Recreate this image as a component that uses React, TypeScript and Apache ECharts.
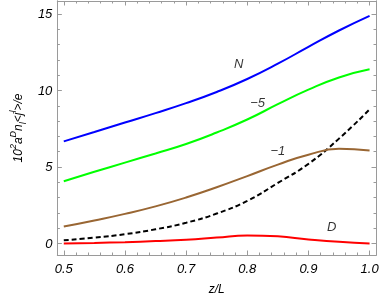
import React, { useEffect, useRef } from "react";
import * as echarts from "echarts";

// ---- data ----
const zValues = [0.5, 0.55, 0.6, 0.65, 0.7, 0.75, 0.8, 0.85, 0.9, 0.95, 1.0];
const seriesN = [6.67, 7.28, 7.9, 8.52, 9.17, 9.9, 10.75, 11.75, 12.85, 13.92, 14.88];
const seriesM5 = [4.06, 4.68, 5.28, 5.88, 6.5, 7.25, 8.1, 9.1, 10.05, 10.85, 11.38];
const seriesM1 = [1.1, 1.5, 1.93, 2.42, 3.0, 3.67, 4.4, 5.15, 5.8, 6.18, 6.08];
const seriesDashed = [0.2, 0.38, 0.6, 0.92, 1.35, 1.95, 2.78, 3.95, 5.2, 6.85, 8.76];
const seriesD = [0.0, 0.03, 0.08, 0.15, 0.24, 0.38, 0.52, 0.46, 0.26, 0.1, 0.0];

// annotation labels: [z, value, text]
const annotations: [number, number, string][] = [
  [0.786, 11.75, "N"],
  [0.817, 9.2, "\u22125"],
  [0.85, 6.1, "\u22121"],
  [0.938, 1.12, "D"],
];

const xMajorTicks = [0.5, 0.6, 0.7, 0.8, 0.9, 1.0];
const xMinorTicks = [0.52, 0.54, 0.56, 0.58, 0.62, 0.64, 0.66, 0.68, 0.72, 0.74, 0.76, 0.78, 0.82, 0.84, 0.86, 0.88, 0.92, 0.94, 0.96, 0.98];
const yMajorTicks = [0, 5, 10, 15];
const yMinorTicks = [1, 2, 3, 4, 6, 7, 8, 9, 11, 12, 13, 14];

const xTitle = "z/L";
// 10^2 a^D n_l <j^l>/e
const yTitle = "{b|10}{sup|2}{b|a}{sup|D}{b|n}{sub|l}{b|<j}{sup|l}{b|>/e}";

const X_MIN = 0.4895;
const X_MAX = 1.0105;
const Y_MIN = -0.76;
const Y_MAX = 15.85;

const FRAME = "#9a9a9a";
const FONT = "'Liberation Sans', Arial, sans-serif";

function xAx(position: string, ticks: number[], len: number, labels: boolean) {
  return {
    type: "value",
    position,
    min: X_MIN,
    max: X_MAX,
    axisLine: { show: true, onZero: false, lineStyle: { color: FRAME, width: 1 } },
    axisTick: { show: true, inside: true, length: len, customValues: ticks, lineStyle: { color: FRAME, width: 1 } },
    axisLabel: labels
      ? {
          show: true,
          customValues: xMajorTicks,
          formatter: (v: number) => v.toFixed(1),
          color: "#000",
          fontStyle: "italic",
          fontSize: 13,
          fontFamily: FONT,
          margin: 7,
        }
      : { show: false },
    splitLine: { show: false },
    ...(labels
      ? {
          name: xTitle,
          nameLocation: "middle",
          nameGap: 28,
          nameTextStyle: { color: "#000", fontStyle: "italic", fontSize: 12, fontFamily: FONT },
        }
      : {}),
  };
}

function yAx(position: string, ticks: number[], len: number, labels: boolean) {
  return {
    type: "value",
    position,
    min: Y_MIN,
    max: Y_MAX,
    axisLine: { show: true, onZero: false, lineStyle: { color: FRAME, width: 1 } },
    axisTick: { show: true, inside: true, length: len, customValues: ticks, lineStyle: { color: FRAME, width: 1 } },
    axisLabel: labels
      ? {
          show: true,
          customValues: yMajorTicks,
          formatter: (v: number) => String(Math.round(v)),
          color: "#000",
          fontStyle: "italic",
          fontSize: 13,
          fontFamily: FONT,
          margin: 5,
        }
      : { show: false },
    splitLine: { show: false },
    ...(labels
      ? {
          name: yTitle,
          nameLocation: "middle",
          nameGap: 22,
          nameTextStyle: {
            color: "#000",
            fontStyle: "italic",
            fontSize: 12,
            fontFamily: FONT,
            rich: {
              b: { fontSize: 12, fontStyle: "italic", fontFamily: FONT, color: "#000", lineHeight: 16, verticalAlign: "bottom" },
              sup: { fontSize: 9, fontStyle: "italic", fontFamily: FONT, color: "#000", lineHeight: 16, verticalAlign: "top" },
              sub: { fontSize: 9, fontStyle: "italic", fontFamily: FONT, color: "#000", lineHeight: 12, verticalAlign: "bottom", padding: [0, 0, -3, 0] },
            },
          },
        }
      : {}),
  };
}

function lineSeries(values: number[], color: string, dashed = false) {
  return {
    type: "line",
    xAxisIndex: 0,
    yAxisIndex: 0,
    data: zValues.map((z, i) => [z, values[i]]),
    smooth: 0.5,
    showSymbol: false,
    symbol: "none",
    lineStyle: { color, width: 2, type: dashed ? [5, 3] : "solid" },
    z: 3,
  };
}

export default function App() {
  const ref = useRef<HTMLDivElement>(null);
  useEffect(() => {
    if (!ref.current) return;
    const chart = echarts.init(ref.current, null, { renderer: "svg" });
    chart.setOption({
      animation: false,
      grid: { left: 44, right: 6, top: 1, bottom: 44 },
      xAxis: [
        xAx("bottom", xMajorTicks, 4.5, true),
        xAx("bottom", xMinorTicks, 2.5, false),
        xAx("top", xMajorTicks, 4.5, false),
        xAx("top", xMinorTicks, 2.5, false),
      ],
      yAxis: [
        yAx("left", yMajorTicks, 4.5, true),
        yAx("left", yMinorTicks, 2.5, false),
        yAx("right", yMajorTicks, 4.5, false),
        yAx("right", yMinorTicks, 2.5, false),
      ],
      series: [
        lineSeries(seriesD, "#ff0000"),
        lineSeries(seriesDashed, "#000000", true),
        lineSeries(seriesM1, "#996633"),
        lineSeries(seriesM5, "#00ff00"),
        lineSeries(seriesN, "#0000ff"),
        {
          type: "scatter",
          xAxisIndex: 0,
          yAxisIndex: 0,
          symbolSize: 1,
          itemStyle: { color: "rgba(0,0,0,0)" },
          data: annotations.map((a) => [a[0], a[1], a[2]]),
          label: {
            show: true,
            position: "inside",
            formatter: (p: any) => p.data[2],
            color: "#000",
            fontStyle: "italic",
            fontSize: 13,
            fontFamily: FONT,
          },
          z: 5,
        },
      ],
    });
    return () => chart.dispose();
  }, []);
  return <div ref={ref} style={{ position: "fixed", left: 0, top: 0, width: 382, height: 300 }} />;
}
